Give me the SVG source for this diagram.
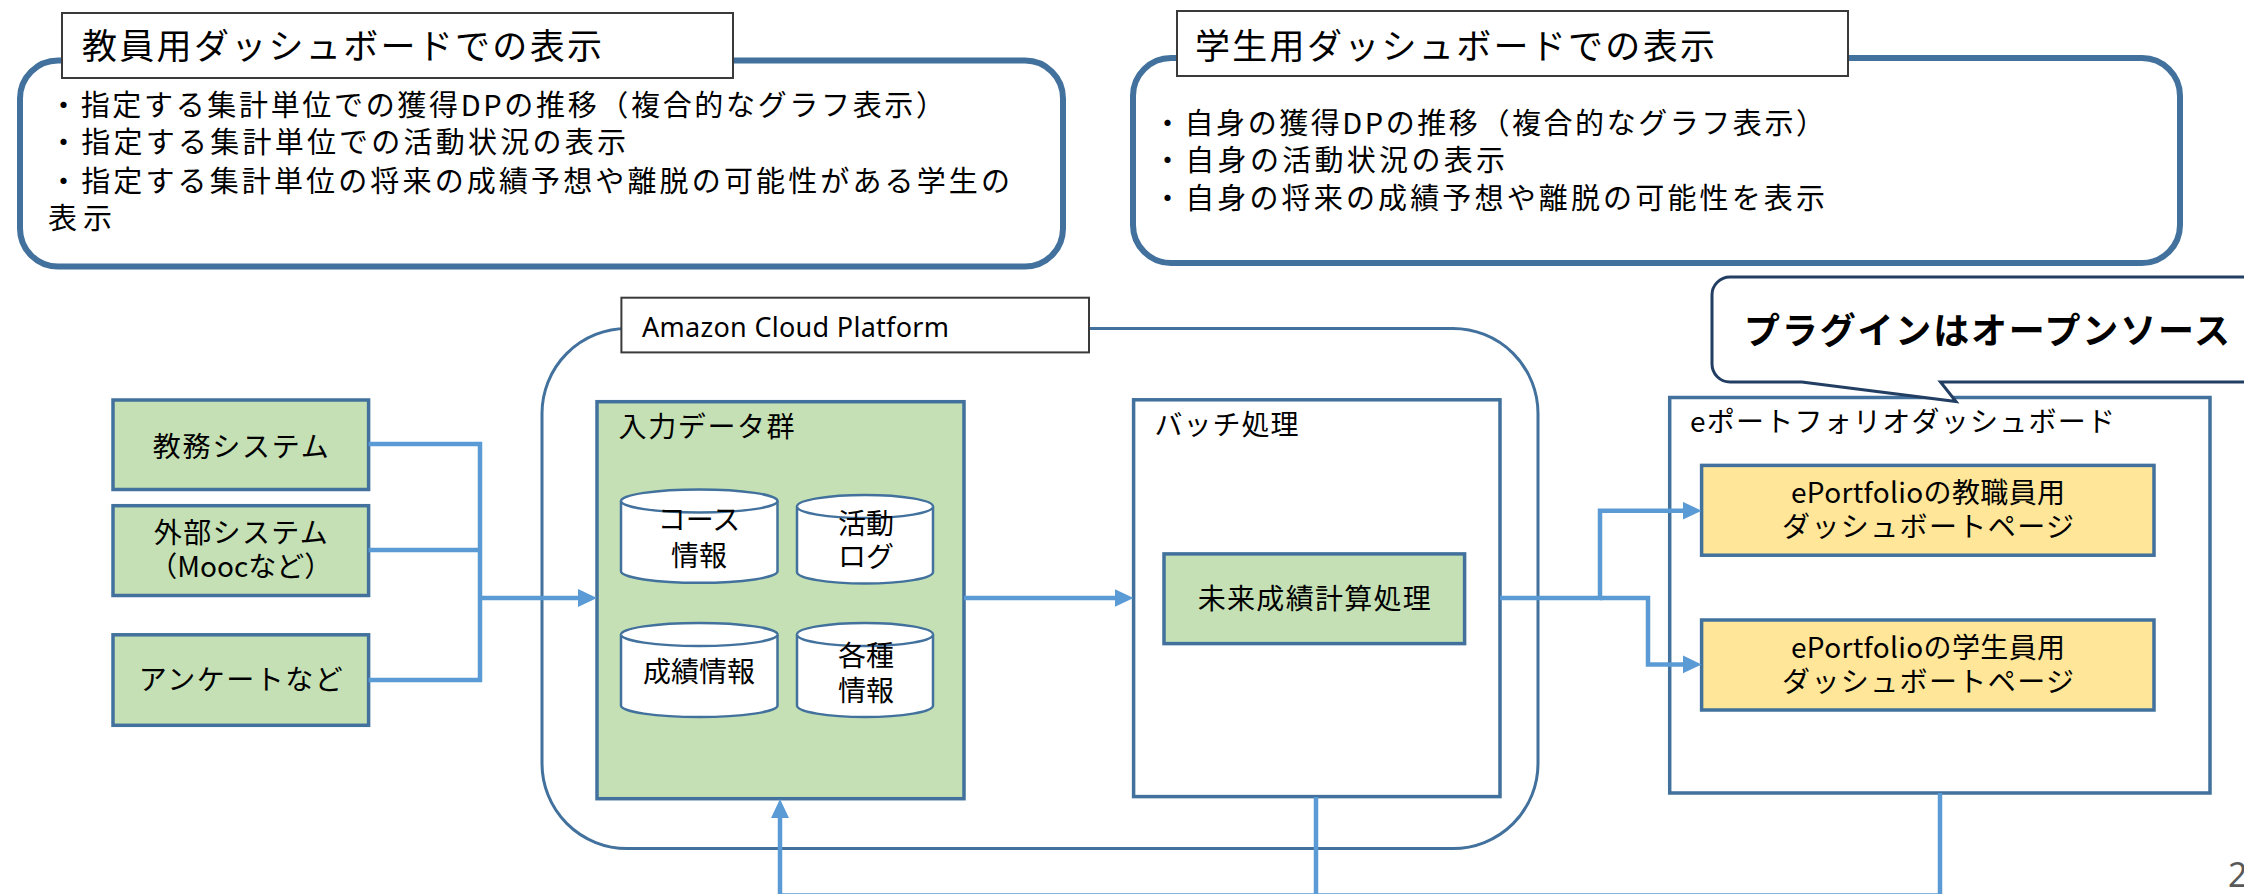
<svg xmlns="http://www.w3.org/2000/svg" width="2244" height="894" viewBox="0 0 2244 894">
  <style>
    text { font-family: "Noto Sans CJK JP", "Noto Sans", sans-serif; fill: #000; }
    .panel { fill: #fff; stroke: #41719C; stroke-width: 6; }
    .tag { fill: #fff; stroke: #3a3a3a; stroke-width: 2; }
    .title { font-size: 35px; }
    .body { font-size: 29px; }
    .lbl { font-size: 28px; }
    .mid { text-anchor: middle; }
    .box { stroke: #41719C; stroke-width: 3.5; }
    .green { fill: #C5E0B4; }
    .yellow { fill: #FFE699; }
    .white { fill: #fff; }
    .db { fill: #fff; stroke: #41719C; stroke-width: 2.5; }
    .wire { fill: none; stroke: #5B9BD5; stroke-width: 4.5; }
  </style>
  <defs>
    <marker id="arrow" markerUnits="userSpaceOnUse" markerWidth="20" markerHeight="20" refX="9" refY="9" orient="auto">
      <path d="M0,0 L19,9 L0,18 Z" fill="#5B9BD5"/>
    </marker>
  </defs>

  <!-- teacher dashboard panel -->
  <g id="teacher-panel">
    <rect class="panel" x="20" y="60.5" width="1043" height="206" rx="38"/>
    <rect class="tag" x="62" y="13" width="671" height="65"/>
    <text class="title" x="82" y="59" textLength="520">教員用ダッシュボードでの表示</text>
    <text class="body" x="49" y="116" textLength="896">・指定する集計単位での獲得DPの推移（複合的なグラフ表示）</text>
    <text class="body" x="49" y="153" textLength="577">・指定する集計単位での活動状況の表示</text>
    <text class="body" x="49" y="192" textLength="961">・指定する集計単位の将来の成績予想や離脱の可能性がある学生の</text>
    <text class="body" x="48" y="229" textLength="64">表示</text>
  </g>

  <!-- student dashboard panel -->
  <g id="student-panel">
    <rect class="panel" x="1133" y="58" width="1047" height="205" rx="38"/>
    <rect class="tag" x="1177" y="11" width="671" height="65"/>
    <text class="title" x="1195" y="59" textLength="520">学生用ダッシュボードでの表示</text>
    <text class="body" x="1153" y="134" textLength="672">・自身の獲得DPの推移（複合的なグラフ表示）</text>
    <text class="body" x="1153" y="171" textLength="352">・自身の活動状況の表示</text>
    <text class="body" x="1153" y="209" textLength="672">・自身の将来の成績予想や離脱の可能性を表示</text>
  </g>

  <!-- cloud platform container -->
  <g id="cloud-platform">
    <rect x="542" y="328.5" width="996" height="520" rx="85" fill="none" stroke="#41719C" stroke-width="3"/>
    <rect class="tag" x="621.4" y="297.7" width="467.6" height="54.7"/>
    <text x="642" y="337" font-size="27" textLength="307" style="font-family: 'Noto Sans', 'Open Sans', sans-serif">Amazon Cloud Platform</text>
  </g>

  <!-- source systems -->
  <g id="src-academic">
    <rect class="box green" x="113" y="400" width="255.6" height="89.5"/>
    <text class="lbl mid" x="240.8" y="457" textLength="176">教務システム</text>
  </g>
  <g id="src-external">
    <rect class="box green" x="113" y="505.7" width="255.6" height="89.8"/>
    <text class="lbl mid" x="240.8" y="543" textLength="174">外部システム</text>
    <text class="lbl mid" x="240.8" y="577">（Moocなど）</text>
  </g>
  <g id="src-survey">
    <rect class="box green" x="113" y="634.8" width="255.6" height="90.5"/>
    <text class="lbl mid" x="240.8" y="690" textLength="204">アンケートなど</text>
  </g>

  <!-- input data group -->
  <g id="input-data">
    <rect class="box green" x="597" y="401.7" width="367" height="397"/>
    <text class="lbl" x="618.6" y="437" textLength="176">入力データ群</text>
  </g>
  <g id="db-course">
    <path class="db" d="M621 501 A78.25 11.5 0 0 1 777.5 501 V571.3 A78.25 11.5 0 0 1 621 571.3 Z"/>
    <path class="db" d="M621 501 A78.25 11.5 0 0 0 777.5 501"/>
    <text class="lbl mid" x="699" y="530">コース</text>
    <text class="lbl mid" x="699" y="566">情報</text>
  </g>
  <g id="db-activity">
    <path class="db" d="M797 506.5 A68 11.5 0 0 1 933 506.5 V572 A68 11.5 0 0 1 797 572 Z"/>
    <path class="db" d="M797 506.5 A68 11.5 0 0 0 933 506.5"/>
    <text class="lbl mid" x="866" y="534">活動</text>
    <text class="lbl mid" x="866" y="567">ログ</text>
  </g>
  <g id="db-grades">
    <path class="db" d="M621 634.5 A78.25 11.5 0 0 1 777.5 634.5 V705.5 A78.25 11.5 0 0 1 621 705.5 Z"/>
    <path class="db" d="M621 634.5 A78.25 11.5 0 0 0 777.5 634.5"/>
    <text class="lbl mid" x="699" y="682">成績情報</text>
  </g>
  <g id="db-misc">
    <path class="db" d="M797 634.5 A68 11.5 0 0 1 933 634.5 V705.5 A68 11.5 0 0 1 797 705.5 Z"/>
    <path class="db" d="M797 634.5 A68 11.5 0 0 0 933 634.5"/>
    <text class="lbl mid" x="866" y="666">各種</text>
    <text class="lbl mid" x="866" y="701">情報</text>
  </g>

  <!-- batch processing -->
  <g id="batch">
    <rect class="box white" x="1133.6" y="399.8" width="366.4" height="396.8"/>
    <text class="lbl" x="1154.6" y="435" textLength="144">バッチ処理</text>
  </g>
  <g id="forecast">
    <rect class="box green" x="1164" y="553.9" width="300.6" height="89.7"/>
    <text class="lbl mid" x="1314.3" y="609" textLength="233">未来成績計算処理</text>
  </g>

  <!-- ePortfolio dashboard -->
  <g id="eportfolio">
    <rect class="box white" x="1669.7" y="397.5" width="540.3" height="395.5"/>
    <text class="lbl" x="1690" y="432" textLength="425">eポートフォリオダッシュボード</text>
  </g>
  <g id="page-staff">
    <rect class="box yellow" x="1701.6" y="465.4" width="452.4" height="89.8"/>
    <text class="lbl mid" x="1928" y="503" textLength="274">ePortfolioの教職員用</text>
    <text class="lbl mid" x="1928" y="537" textLength="292">ダッシュボートページ</text>
  </g>
  <g id="page-student">
    <rect class="box yellow" x="1701.6" y="620" width="452.4" height="90"/>
    <text class="lbl mid" x="1928" y="658" textLength="274">ePortfolioの学生員用</text>
    <text class="lbl mid" x="1928" y="692" textLength="292">ダッシュボートページ</text>
  </g>

  <!-- connectors -->
  <g id="connectors">
    <path class="wire" d="M368.6 444 H480 V680 H368.6"/>
    <path class="wire" d="M368.6 550 H478"/>
    <path class="wire" d="M480 598 H587" marker-end="url(#arrow)"/>
    <path class="wire" d="M964 598 H1123.5" marker-end="url(#arrow)"/>
    <path class="wire" d="M1500 598 H1600 V510.7 H1691.6" marker-end="url(#arrow)"/>
    <path class="wire" d="M1600 598 H1648 V664.4 H1691.6" marker-end="url(#arrow)"/>
    <path class="wire" d="M1316 797 V895.5"/>
    <path class="wire" d="M1940 793 V895.5"/>
    <path class="wire" d="M1940 895.5 H780 V809" marker-end="url(#arrow)"/>
  </g>

  <!-- callout -->
  <g id="callout">
    <path d="M1730 277 H2300 V382 H1940.5 L1956 401.5 L1801.8 382 H1730 A18 18 0 0 1 1712 364 V295 A18 18 0 0 1 1730 277 Z" fill="#fff" stroke="#223E63" stroke-width="3"/>
    <text x="1744" y="344" font-size="36" font-weight="bold" textLength="486">プラグインはオープンソース</text>
  </g>

  <text x="2228" y="887" font-size="34" style="font-family: 'Noto Sans', sans-serif; fill: #595959">2</text>
</svg>
